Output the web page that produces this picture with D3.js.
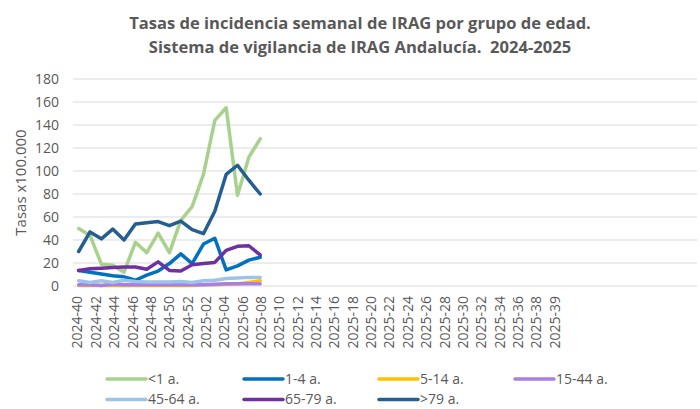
<!DOCTYPE html>
<html>
<head>
<meta charset="utf-8">
<script src="https://cdn.jsdelivr.net/npm/d3@7"></script>
<style>
  body { margin: 0; background: #fff; }
  svg { display: block; font-family: "Open Sans", sans-serif; }
</style>
</head>
<body>
<svg id="chart" width="700" height="409"></svg>
<script>
// ── Data ────────────────────────────────────────────────────────────────────

const weeks = ["2024-40","2024-41","2024-42","2024-43","2024-44","2024-45","2024-46","2024-47",
               "2024-48","2024-49","2024-50","2024-51","2024-52","2025-01","2025-02","2025-03","2025-04"];

const tickLabels = ["2024-40","2024-42","2024-44","2024-46","2024-48","2024-50","2024-52",
                    "2025-02","2025-04","2025-06","2025-08","2025-10","2025-12","2025-14",
                    "2025-16","2025-18","2025-20","2025-22","2025-24","2025-26","2025-28",
                    "2025-30","2025-32","2025-34","2025-36","2025-38","2025-39"];

const menor1  = [50, 44, 19, 18, 12, 38, 29, 46, 29, 57, 69, 97, 144, 155, 79, 112, 128];
const de1a4   = [13.5, 12, 10.5, 9, 8, 5, 9.5, 13, 19.5, 28, 19.5, 36.5, 41.5, 14, 17.5, 22.5, 25];
const de5a14  = [0.5, 0.5, 0.5, 0.5, 0.5, 0.5, 0.5, 0.5, 0.5, 0.5, 0.5, 1, 1, 1.5, 2, 3, 4.5];
const de15a44 = [1, 1, 0.5, 1.5, 1, 1, 1, 1, 1, 1, 1, 1, 1.5, 2, 2, 2, 2];
const de45a64 = [4.5, 3, 4.5, 3, 5, 4, 3.5, 3.5, 3.5, 4, 3, 4.5, 5, 6.5, 7, 7.5, 7.5];
const de65a79 = [13.5, 15, 15.5, 16, 16.5, 16.5, 14.5, 21, 13.5, 13, 18.5, 19.5, 20.5, 31, 34.5, 35, 27];
const mayor79 = [30, 47, 41, 49.5, 40, 54, 55, 56, 52.5, 56.5, 49, 45.5, 65, 97, 105, 92, 80];

const seriesNames  = ["<1 a.", "1-4 a.", "5-14 a.", "15-44 a.", "45-64 a.", "65-79 a.", ">79 a."];
const seriesValues = [menor1, de1a4, de5a14, de15a44, de45a64, de65a79, mayor79];
const seriesColors = ["#A9D18E", "#0070C0", "#FFC000", "#A97FE6", "#9DC3E6", "#7030A0", "#255E91"];

const yTicks = [0, 20, 40, 60, 80, 100, 120, 140, 160, 180];

// ── Layout ──────────────────────────────────────────────────────────────────

const svg = d3.select("#chart");
const plot = { left: 73, right: 697, top: 79, bottom: 286 };
const textGrey = "#595959";

// category axis (labels) and the line axis use different slot counts
const xCat  = d3.scaleBand().domain(d3.range(68)).range([plot.left, plot.right]);
const xLine = d3.scaleBand().domain(d3.range(55)).range([plot.left, plot.right]);
const y = d3.scaleLinear().domain([0, 180]).range([plot.bottom, plot.top]);

// ── Title ───────────────────────────────────────────────────────────────────

const titleLines = ["Tasas de incidencia semanal de IRAG por grupo de edad.",
                    "Sistema de vigilancia de IRAG Andalucía.  2024-2025"];
const title = svg.append("text")
  .attr("x", 360)
  .attr("text-anchor", "middle")
  .attr("fill", textGrey)
  .attr("font-weight", "bold")
  .attr("font-size", 17)
  .style("white-space", "pre");
titleLines.forEach((t, i) => {
  title.append("tspan").attr("x", 360).attr("y", 29 + i * 24).text(t);
});
// shrink to the reference width
const firstW = title.select("tspan").node().getComputedTextLength();
title.attr("font-size", 17 * Math.min(1, 462 / firstW));

// ── Gridlines + y axis ──────────────────────────────────────────────────────

svg.append("g")
  .selectAll("line")
  .data(yTicks)
  .join("line")
    .attr("x1", plot.left).attr("x2", plot.right)
    .attr("y1", d => y(d)).attr("y2", d => y(d))
    .attr("stroke", "#D9D9D9")
    .attr("stroke-width", 1);

svg.append("g")
  .selectAll("text")
  .data(yTicks)
  .join("text")
    .attr("x", 59)
    .attr("y", d => y(d))
    .attr("dy", "0.35em")
    .attr("text-anchor", "end")
    .attr("font-size", 14)
    .attr("fill", textGrey)
    .text(d => d);

svg.append("text")
  .attr("transform", `translate(26,${(plot.top + plot.bottom) / 2}) rotate(-90)`)
  .attr("text-anchor", "middle")
  .attr("font-size", 15)
  .attr("fill", textGrey)
  .text("Tasas x100.000");

// ── X axis labels ───────────────────────────────────────────────────────────

svg.append("g")
  .selectAll("text")
  .data(tickLabels)
  .join("text")
    .attr("transform", (d, i) =>
      `translate(${xCat(i * 2) + xCat.bandwidth() / 2},${plot.bottom + 10}) rotate(-90)`)
    .attr("dy", "0.35em")
    .attr("text-anchor", "end")
    .attr("font-size", 14)
    .attr("fill", textGrey)
    .text(d => d);

// ── Lines ───────────────────────────────────────────────────────────────────

const line = d3.line()
  .x((d, i) => xLine(i) + xLine.bandwidth() / 2)
  .y(d => y(d));

svg.append("g")
  .selectAll("path")
  .data(seriesValues)
  .join("path")
    .attr("fill", "none")
    .attr("stroke", (d, i) => seriesColors[i])
    .attr("stroke-width", 3.5)
    .attr("stroke-linejoin", "round")
    .attr("stroke-linecap", "round")
    .attr("d", line);

// ── Legend ──────────────────────────────────────────────────────────────────

const legendCols = [107, 244, 379, 515];
const legendRows = [379, 399.5];
const legend = svg.append("g")
  .selectAll("g")
  .data(seriesNames)
  .join("g")
    .attr("transform", (d, i) => `translate(${legendCols[i % 4]},${legendRows[Math.floor(i / 4)]})`);

legend.append("line")
  .attr("x1", 0).attr("x2", 39)
  .attr("stroke", (d, i) => seriesColors[i])
  .attr("stroke-width", 3.5)
  .attr("stroke-linecap", "round");

legend.append("text")
  .attr("x", 41)
  .attr("dy", "0.35em")
  .attr("font-size", 14)
  .attr("fill", textGrey)
  .text(d => d);
</script>
</body>
</html>
